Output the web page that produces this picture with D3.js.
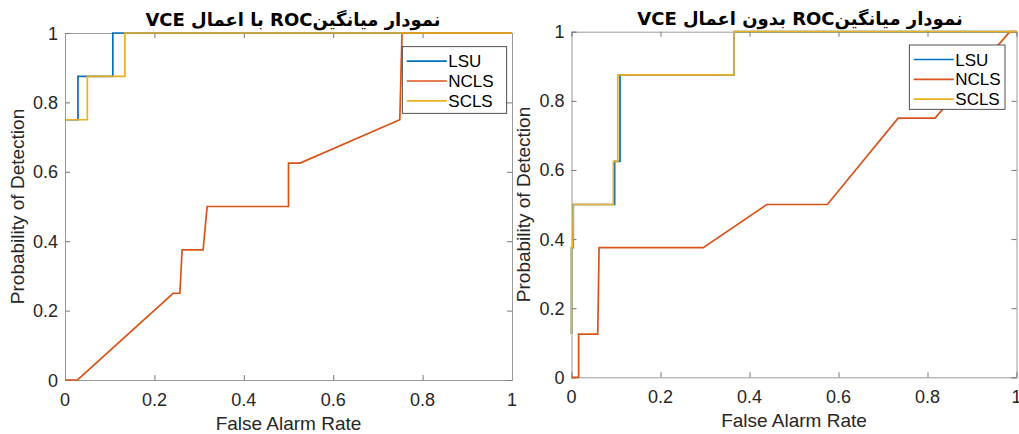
<!DOCTYPE html>
<html>
<head>
<meta charset="utf-8">
<script src="https://cdn.jsdelivr.net/npm/d3@7"></script>
<style>
  html, body { margin: 0; padding: 0; background: #fff; }
  svg { display: block; }
  .tick-label { font-family: "Liberation Sans", Arial, sans-serif; font-size: 18px; fill: #262626; }
  .axis-label { font-family: "Liberation Sans", Arial, sans-serif; font-size: 19px; fill: #262626; }
  .legend-text { font-family: "Liberation Sans", Arial, sans-serif; font-size: 17px; fill: #000; }
  .title { font-family: "DejaVu Sans", sans-serif; font-weight: bold; font-size: 18px; fill: #000; }
</style>
</head>
<body>
<svg id="chart" width="1019" height="434"></svg>
<script>
// Series names and colours (MATLAB default order)
const seriesNames = ["LSU", "NCLS", "SCLS"];
const seriesColors = ["#0072BD", "#D95319", "#EDB120"];

// Axis ticks
const tickValues = [0, 0.2, 0.4, 0.6, 0.8, 1];
const tickLabels = ["0", "0.2", "0.4", "0.6", "0.8", "1"];

// Titles and axis labels
const titleWithVCE = "نمودار میانگینROC با اعمال VCE";
const titleWithoutVCE = "نمودار میانگینROC بدون اعمال VCE";
const xLabel = "False Alarm Rate";
const yLabel = "Probability of Detection";

// ROC curves with VCE: [false alarm rate, probability of detection]
const lsuWithVCE = [[0, 0.75], [0.029, 0.75], [0.029, 0.875], [0.107, 0.875], [0.107, 1], [1, 1]];
const nclsWithVCE = [[0, 0], [0.028, 0], [0.242, 0.25], [0.257, 0.25], [0.262, 0.375], [0.309, 0.375],
  [0.318, 0.5], [0.5, 0.5], [0.5, 0.625], [0.526, 0.625], [0.749, 0.75], [0.754, 1], [1, 1]];
const sclsWithVCE = [[0, 0.75], [0.05, 0.75], [0.05, 0.875], [0.134, 0.875], [0.134, 1], [1, 1]];

// ROC curves without VCE
const lsuWithoutVCE = [[0, 0.125], [0, 0.375], [0.004, 0.375], [0.004, 0.5], [0.097, 0.5], [0.097, 0.625],
  [0.109, 0.625], [0.109, 0.875], [0.365, 0.875], [0.365, 1], [1, 1]];
const nclsWithoutVCE = [[0, 0], [0.016, 0], [0.016, 0.125], [0.059, 0.125], [0.062, 0.375], [0.296, 0.375],
  [0.439, 0.5], [0.575, 0.5], [0.734, 0.75], [0.817, 0.75], [0.985, 1], [1, 1]];
const sclsWithoutVCE = [[0, 0.125], [0, 0.375], [0.003, 0.375], [0.004, 0.5], [0.094, 0.5], [0.094, 0.625],
  [0.104, 0.625], [0.104, 0.875], [0.365, 0.875], [0.365, 1], [1, 1]];

const svg = d3.select("#chart");

function drawPanel(cfg) {
  const x = d3.scaleLinear().domain([0, 1]).range([cfg.left, cfg.right]);
  const y = d3.scaleLinear().domain([0, 1]).range([cfg.bottom, cfg.top]);
  const g = svg.append("g");
  const axisColor = "#9a9a9a";
  const tickLen = 5;

  // Box with inward ticks on all sides
  g.append("g").attr("transform", `translate(0,${cfg.bottom})`)
    .call(d3.axisBottom(x).tickValues(tickValues).tickSize(-tickLen).tickFormat(""));
  g.append("g").attr("transform", `translate(0,${cfg.top})`)
    .call(d3.axisTop(x).tickValues(tickValues).tickSize(-tickLen).tickFormat(""));
  g.append("g").attr("transform", `translate(${cfg.left},0)`)
    .call(d3.axisLeft(y).tickValues(tickValues).tickSize(-tickLen).tickFormat(""));
  g.append("g").attr("transform", `translate(${cfg.right},0)`)
    .call(d3.axisRight(y).tickValues(tickValues).tickSize(-tickLen).tickFormat(""));
  g.selectAll(".domain").attr("stroke", axisColor).attr("stroke-width", 1);
  g.selectAll(".tick line").attr("stroke", "#777").attr("stroke-width", 1);

  // Tick labels
  g.selectAll(".xt").data(tickValues).enter().append("text")
    .attr("class", "tick-label")
    .attr("x", d => x(d)).attr("y", cfg.bottom + 26)
    .attr("text-anchor", "middle")
    .text((d, i) => tickLabels[i]);
  g.selectAll(".yt").data(tickValues).enter().append("text")
    .attr("class", "tick-label")
    .attr("x", cfg.left - 7).attr("y", d => y(d) + 6.5)
    .attr("text-anchor", "end")
    .text((d, i) => tickLabels[i]);

  // Axis labels
  g.append("text").attr("class", "axis-label")
    .attr("x", (cfg.left + cfg.right) / 2).attr("y", cfg.bottom + 50)
    .attr("text-anchor", "middle").text(xLabel);
  g.append("text").attr("class", "axis-label")
    .attr("transform", `translate(${cfg.yLabelX},${(cfg.top + cfg.bottom) / 2}) rotate(-90)`)
    .attr("text-anchor", "middle").text(yLabel);

  // Title
  g.append("text").attr("class", "title")
    .attr("x", cfg.titleX).attr("y", cfg.top - 7)
    .attr("text-anchor", "middle")
    .attr("direction", "rtl")
    .text(cfg.title);

  // Curves
  const line = d3.line().x(d => x(d[0])).y(d => y(d[1]));
  cfg.series.forEach((s, i) => {
    g.append("path").datum(s)
      .attr("fill", "none")
      .attr("stroke", seriesColors[i])
      .attr("stroke-width", 1.7)
      .attr("stroke-linejoin", "miter")
      .attr("d", line);
  });

  // Legend
  const lg = cfg.legend;
  const leg = g.append("g");
  leg.append("rect")
    .attr("x", lg.x).attr("y", lg.y).attr("width", lg.w).attr("height", lg.h)
    .attr("fill", "#fff").attr("stroke", "#262626").attr("stroke-width", 0.8);
  seriesNames.forEach((name, i) => {
    const ry = lg.y + 14.5 + i * 19.8;
    leg.append("line")
      .attr("x1", lg.x + 4.5).attr("x2", lg.x + 44.5)
      .attr("y1", ry).attr("y2", ry)
      .attr("stroke", seriesColors[i]).attr("stroke-width", 1.7);
    leg.append("text").attr("class", "legend-text")
      .attr("x", lg.x + 46).attr("y", ry + 6)
      .text(name);
  });
}

drawPanel({
  left: 65, right: 512, top: 33, bottom: 380,
  yLabelX: 24, titleX: 293,
  title: titleWithVCE,
  series: [lsuWithVCE, nclsWithVCE, sclsWithVCE],
  legend: { x: 402.3, y: 46.7, w: 104.4, h: 66.6 }
});

drawPanel({
  left: 571.5, right: 1016.5, top: 31.7, bottom: 377.3,
  yLabelX: 530, titleX: 800,
  title: titleWithoutVCE,
  series: [lsuWithoutVCE, nclsWithoutVCE, sclsWithoutVCE],
  legend: { x: 909.3, y: 45, w: 95.7, h: 64.3 }
});
</script>
</body>
</html>
